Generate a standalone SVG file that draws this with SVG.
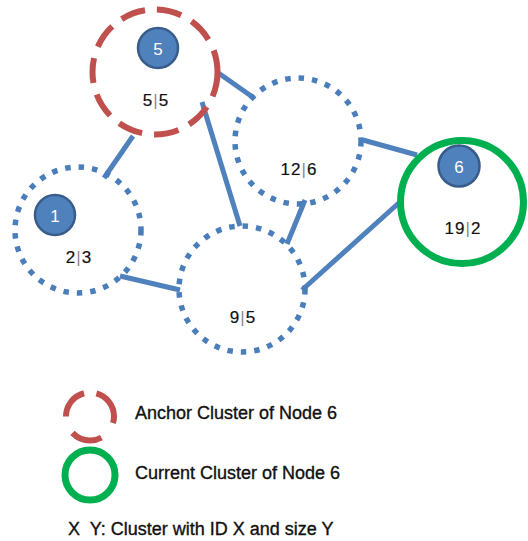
<svg xmlns="http://www.w3.org/2000/svg" width="528" height="541" viewBox="0 0 528 541">
<style>
.edge{stroke:#4F81BD;stroke-width:5;fill:none;stroke-linecap:butt}
.dotted{fill:none;stroke:#4A7EBB;stroke-width:5.5;stroke-dasharray:5.5 8}
.anchor{fill:none;stroke:#C0504D;stroke-width:6;stroke-dasharray:25 12}
.current{fill:none;stroke:#00B050;stroke-width:7}
.node{fill:#4F81BD;stroke:#385D8A;stroke-width:2.5}
.num{font-family:"Liberation Sans",Arial,sans-serif;font-size:17px;fill:#fff;text-anchor:middle}
.lab{font-family:"Liberation Sans",Arial,sans-serif;font-size:17px;fill:#111;text-anchor:middle;letter-spacing:1px;stroke:#111;stroke-width:0.2}
.bar{fill:#888;stroke:none}
.leg{font-family:"Liberation Sans",Arial,sans-serif;font-size:18px;fill:#111;stroke:#111;stroke-width:0.35}
</style>
<rect width="528" height="541" fill="#fff"/>
<g id="connectors">
<line class="edge" x1="133" y1="136" x2="104" y2="178"/>
<line class="edge" x1="217" y1="72" x2="254" y2="98"/>
<line class="edge" x1="202" y1="102" x2="240" y2="226"/>
<line class="edge" x1="305" y1="200" x2="287" y2="244"/>
<line class="edge" x1="363" y1="140" x2="417" y2="155"/>
<line class="edge" x1="120" y1="276" x2="180" y2="290"/>
<line class="edge" x1="302" y1="290" x2="401" y2="201"/>
</g>
<g id="cluster5">
<circle class="anchor" cx="155" cy="72" r="62.5"/>
<circle class="node" cx="158" cy="48" r="20"/>
<text class="num" x="158" y="55">5</text>
<text class="lab" x="156" y="106">5<tspan class="bar">|</tspan>5</text>
</g>
<g id="cluster1">
<circle class="dotted" cx="78" cy="230" r="63"/>
<circle class="node" cx="55" cy="215" r="20"/>
<text class="num" x="55" y="222">1</text>
<text class="lab" x="79" y="263">2<tspan class="bar">|</tspan>3</text>
</g>
<g id="cluster9">
<circle class="dotted" cx="242" cy="289" r="63"/>
<text class="lab" x="243" y="323">9<tspan class="bar">|</tspan>5</text>
</g>
<g id="cluster12">
<circle class="dotted" cx="298" cy="141" r="63"/>
<text class="lab" x="299" y="175">12<tspan class="bar">|</tspan>6</text>
</g>
<g id="cluster6">
<circle class="current" cx="462" cy="202" r="61.5"/>
<circle class="node" cx="459" cy="166" r="20.5"/>
<text class="num" x="459" y="173">6</text>
<text class="lab" x="463" y="234">19<tspan class="bar">|</tspan>2</text>
</g>
<g id="legend">
<circle cx="90" cy="416.5" r="24" fill="none" stroke="#C0504D" stroke-width="6" stroke-dasharray="31.4 12.6 37.7 18.8 31.4 18.8" transform="rotate(180 90 416.5)"/>
<text class="leg" x="135" y="419">Anchor Cluster of Node 6</text>
<circle class="current" cx="90" cy="475" r="25" stroke-width="6"/>
<text class="leg" x="135" y="479">Current Cluster of Node 6</text>
<text class="leg" x="68" y="535" xml:space="preserve">X  Y: Cluster with ID X and size Y</text>
</g>
</svg>
